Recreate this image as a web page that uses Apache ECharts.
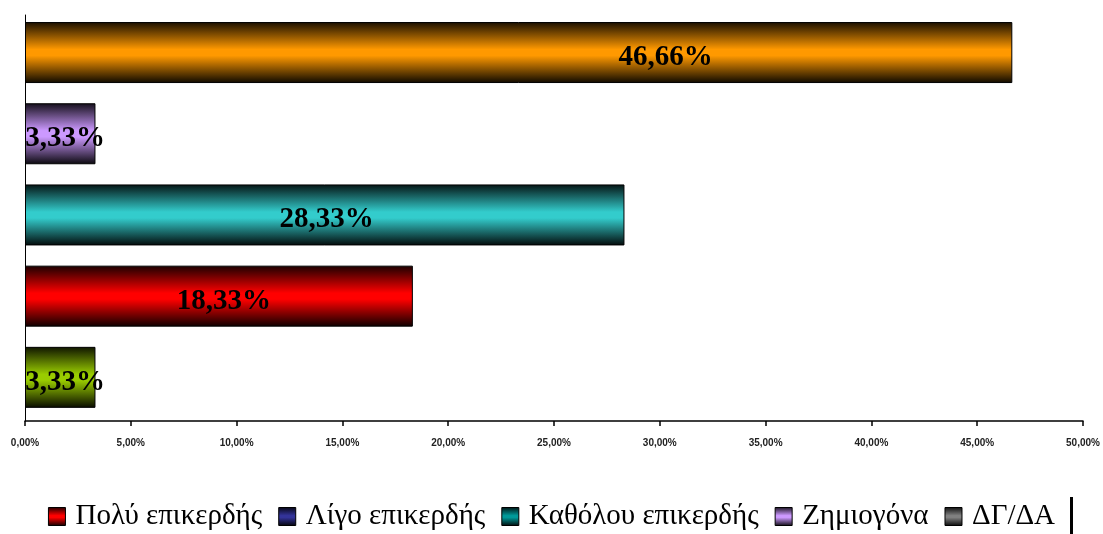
<!DOCTYPE html>
<html>
<head>
<meta charset="utf-8">
<script src="https://cdn.jsdelivr.net/npm/echarts@6/dist/echarts.min.js"></script>
<style>
  html, body { margin: 0; padding: 0; background: #fff; }
  #chart { width: 1103px; height: 534px; }
</style>
</head>
<body>
<div id="chart"></div>
<script>
// bars from bottom to top
var categories = ['Α', 'Β', 'Γ', 'Δ', 'Ε']
var values = [3.33, 18.33, 28.33, 3.33, 46.66]
var barColors = ['#99CC00', '#FF0000', '#33CCCC', '#CC99FF', '#FF9900']

var legendNames = ['Πολύ επικερδής', 'Λίγο επικερδής', 'Καθόλου επικερδής', 'Ζημιογόνα', 'ΔΓ/ΔΑ']
var legendColors = ['#FF0000', '#333399', '#009999', '#CC99FF', '#808080']

var xTicks = [0, 5, 10, 15, 20, 25, 30, 35, 40, 45, 50]

// label nudges (px) so they sit where the original put them
var labelShift = [[5, 5], [5, 5], [2, 5], [5, 5], [147, 5]]

function shade(hex, k) {
  var r = parseInt(hex.substr(1, 2), 16)
  var g = parseInt(hex.substr(3, 2), 16)
  var b = parseInt(hex.substr(5, 2), 16)
  return 'rgb(' + Math.round(r * k) + ',' + Math.round(g * k) + ',' + Math.round(b * k) + ')'
}

function tube(hex) {
  return new echarts.graphic.LinearGradient(0, 0, 0, 1, [
    { offset: 0, color: shade(hex, 0.1) },
    { offset: 0.45, color: hex },
    { offset: 0.55, color: hex },
    { offset: 1, color: shade(hex, 0.05) }
  ])
}

function pct(v) {
  return v.toFixed(2).replace('.', ',') + '%'
}

var chart = echarts.init(document.getElementById('chart'))

var seriesList = [{
  name: 'data',
  type: 'bar',
  barWidth: 61,
  data: values.map(function (v, i) {
    return {
      value: v,
      itemStyle: { color: tube(barColors[i]) },
      label: { offset: labelShift[i] }
    }
  }),
  itemStyle: {
    borderColor: '#000',
    borderWidth: 1
  },
  label: {
    show: true,
    position: 'inside',
    formatter: function (p) { return pct(p.value) },
    fontFamily: 'Liberation Serif',
    fontWeight: 'bold',
    fontSize: 29,
    color: '#000'
  },
  silent: true
}]

// legend-only series
legendNames.forEach(function (name, i) {
  seriesList.push({
    name: name,
    type: 'bar',
    data: [],
    itemStyle: { color: legendColors[i] }
  })
})

chart.setOption({
  animation: false,
  grid: {
    left: 25,
    right: 20,
    top: 15,
    bottom: 113
  },
  legend: {
    top: 497,
    left: 'center',
    icon: 'rect',
    itemWidth: 17,
    itemHeight: 18,
    itemGap: 16,
    selectedMode: false,
    data: legendNames.map(function (n, i) {
      return {
        name: n,
        itemStyle: {
          color: tube(legendColors[i]),
          borderColor: '#000',
          borderWidth: 1
        }
      }
    }),
    textStyle: {
      fontFamily: 'Liberation Serif',
      fontSize: 29,
      color: '#000',
      padding: [0, 0, 0, 5]
    }
  },
  xAxis: {
    type: 'value',
    min: xTicks[0],
    max: xTicks[xTicks.length - 1],
    interval: 5,
    splitLine: { show: false },
    axisLine: {
      show: true,
      lineStyle: { color: '#000', width: 1.5 }
    },
    axisTick: {
      show: true,
      length: 5,
      lineStyle: { color: '#000', width: 1.5 }
    },
    axisLabel: {
      margin: 17,
      fontFamily: 'Liberation Sans',
      fontWeight: 'bold',
      fontSize: 10,
      color: '#222',
      formatter: function (v) { return pct(v) }
    }
  },
  yAxis: {
    type: 'category',
    data: categories,
    axisLine: {
      show: true,
      lineStyle: { color: '#000', width: 1 }
    },
    axisTick: { show: false },
    axisLabel: { show: false }
  },
  graphic: [{
    type: 'rect',
    left: 1070,
    top: 497,
    shape: { width: 3, height: 37 },
    style: { fill: '#000' }
  }],
  series: seriesList
})
</script>
</body>
</html>
